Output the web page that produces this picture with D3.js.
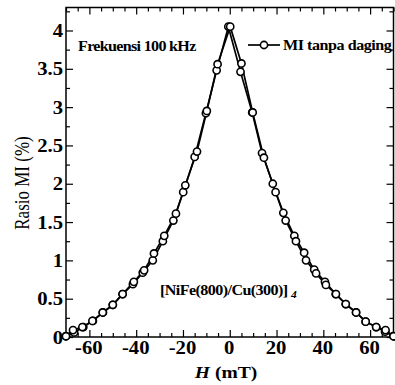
<!DOCTYPE html>
<html><head><meta charset="utf-8">
<script src="https://cdn.jsdelivr.net/npm/d3@7"></script>
<style>body{margin:0;background:#fff}svg{display:block}</style>
</head><body>
<script>
// Sweep -70 -> +70 mT
const hUp = [-70, -66.5, -62.6, -58.5, -54.2, -50, -45.8, -41.4, -37.2, -32.9, -28.6, -24.1, -19.9, -15.0, -10.2, -5.6, -0.6, 4.6, 9.6, 13.8, 18.4, 22.9, 27.6, 31.8, 36.1, 40.7, 45.3, 49.6, 54.0, 58.1, 62.6, 66.4, 70];
const miUp = [0.01, 0.06, 0.13, 0.21, 0.32, 0.42, 0.56, 0.69, 0.84, 1.00, 1.25, 1.52, 1.89, 2.35, 2.92, 3.48, 4.05, 3.46, 2.93, 2.40, 2.00, 1.62, 1.32, 1.10, 0.88, 0.72, 0.56, 0.43, 0.32, 0.20, 0.13, 0.07, 0.01];
// Sweep +70 -> -70 mT
const hDown = [70, 66.6, 62.6, 58.1, 54.0, 49.6, 45.4, 41.1, 36.9, 32.6, 28.3, 23.9, 19.6, 14.6, 9.8, 5.0, 0.2, -5.2, -9.8, -14.0, -19.0, -23.0, -28.0, -32.4, -36.6, -41.0, -45.8, -50, -54.3, -58.7, -63, -67, -70];
const miDown = [0.01, 0.09, 0.13, 0.20, 0.32, 0.43, 0.56, 0.68, 0.83, 1.00, 1.25, 1.52, 1.89, 2.34, 2.93, 3.57, 4.05, 3.56, 2.95, 2.42, 1.98, 1.61, 1.32, 1.09, 0.87, 0.72, 0.56, 0.42, 0.32, 0.21, 0.13, 0.09, 0.01];
const xTicks = [-60, -40, -20, 0, 20, 40, 60];
const yTicks = [0, 0.5, 1, 1.5, 2, 2.5, 3, 3.5, 4];
const yTickLabels = ["0", "0.5", "1", "1.5", "2", "2.5", "3", "3.5", "4"];
const seriesName = "MI tanpa daging";
const noteFreq = "Frekuensi 100 kHz";

const W = 395, H = 385;
const L = 66, R = 393.5, T = 7.5, B = 337;
const SX = 1.15;
const svg = d3.select("body").append("svg").attr("width", W).attr("height", H);
const x = d3.scaleLinear().domain([-70, 70]).range([L, R]);
const y = d3.scaleLinear().domain([0, 4.3]).range([B, T]);
const font = "'Liberation Serif','Times New Roman',serif";

const g = svg.append("g");
function ticks(axisGen, tx, ty, vals, len, lbl) {
  const a = g.append("g").attr("transform", `translate(${tx},${ty})`)
    .call(axisGen.tickValues(vals).tickSize(len).tickSizeOuter(0).tickFormat(lbl ? ((d,i)=>lbl[i]) : ""));
  a.select(".domain").remove();
  a.selectAll("line").attr("stroke", "#000").attr("stroke-width", 1.2);
  return a;
}
const xMinor = d3.range(-70, 70.1, 5).filter(v => v % 20 !== 0);
const yMinor = d3.range(0.25, 4.3, 0.5);
const xb = ticks(d3.axisTop(x), 0, B, xTicks, 7, xTicks.map(String));
ticks(d3.axisTop(x), 0, B, xMinor, 4);
ticks(d3.axisBottom(x), 0, T, xTicks, 7);
ticks(d3.axisBottom(x), 0, T, xMinor, 4);
const yl = ticks(d3.axisRight(y), L, 0, yTicks, 7, yTickLabels);
ticks(d3.axisRight(y), L, 0, yMinor, 4);
ticks(d3.axisLeft(y), R, 0, yTicks, 7);
ticks(d3.axisLeft(y), R, 0, yMinor, 4);

xb.selectAll("text").attr("y", 0).attr("dy", 0).attr("text-anchor", "middle")
  .attr("transform", `translate(-1,17) scale(${SX},1)`)
  .attr("font-family", font).attr("font-size", 18).attr("font-weight", "bold").attr("fill", "#000");
yl.selectAll("text").attr("x", 0).attr("dx", 0).attr("text-anchor", "end").attr("dy", "0.34em")
  .attr("transform", `translate(-3,0) scale(${SX},1)`)
  .attr("font-family", font).attr("font-size", 18).attr("font-weight", "bold").attr("fill", "#000");

svg.append("rect").attr("x", L).attr("y", T).attr("width", R - L).attr("height", B - T)
  .attr("fill", "none").attr("stroke", "#000").attr("stroke-width", 1.5);

const line = d3.line().x(d => x(d[0])).y(d => y(d[1]));
const series = [d3.zip(hUp, miUp), d3.zip(hDown, miDown)];
series.forEach(s => {
  svg.append("path").datum(s).attr("d", line).attr("fill", "none").attr("stroke", "#000").attr("stroke-width", 1.7);
});
series.forEach(s => {
  svg.append("g").selectAll("circle").data(s).join("circle")
    .attr("cx", d => x(d[0])).attr("cy", d => y(d[1])).attr("r", 3.6)
    .attr("fill", "#fff").attr("stroke", "#000").attr("stroke-width", 1.6);
});

function htext(px, py, size, ls) {
  return svg.append("text").attr("transform", `translate(${px},${py}) scale(${SX},1)`)
    .attr("font-family", font).attr("font-size", size).attr("font-weight", "bold").attr("letter-spacing", ls);
}

svg.append("line").attr("x1", 248).attr("x2", 280).attr("y1", 45).attr("y2", 45).attr("stroke", "#000").attr("stroke-width", 1.7);
svg.append("circle").attr("cx", 264).attr("cy", 45).attr("r", 3.6).attr("fill", "#fff").attr("stroke", "#000").attr("stroke-width", 1.6);
htext(283, 50, 14, -0.4).text(seriesName);
htext(78, 51, 14, -0.6).text(noteFreq);

const t = htext(160, 295, 14, -0.5);
t.append("tspan").text("[NiFe(800)/Cu(300)]");
t.append("tspan").attr("dx", 3).attr("dy", 3).attr("font-size", 10).attr("font-style", "italic").text("4");

const xt = htext(226, 378, 17, 0).attr("text-anchor", "middle");
xt.append("tspan").attr("font-style", "italic").text("H");
xt.append("tspan").text(" (mT)");
svg.append("text").attr("transform", "translate(29,183) rotate(-90) scale(1,1.2)").attr("text-anchor", "middle")
  .attr("font-family", font).attr("font-size", 17).text("Rasio MI (%)");
</script>
</body></html>
